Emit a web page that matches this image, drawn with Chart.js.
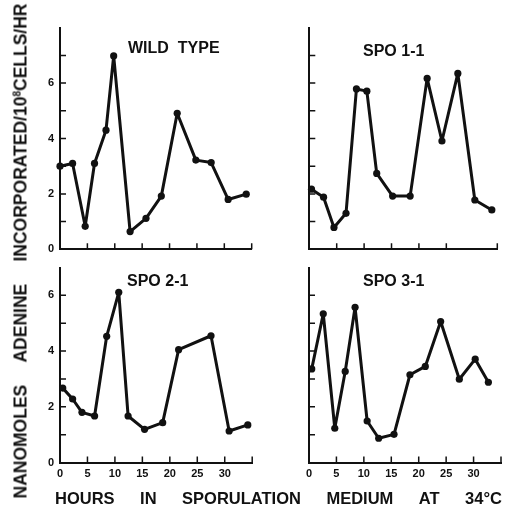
<!DOCTYPE html>
<html>
<head>
<meta charset="utf-8">
<script src="https://cdn.jsdelivr.net/npm/chart.js@4/dist/chart.umd.min.js"></script>
<style>
body{ margin:0; background:#fff; }
#page{
    position:relative; width:506px; height:511px; overflow:hidden;
    font-family:"Liberation Sans", Arial, sans-serif; font-weight:bold; color:#111;
}
canvas{ position:absolute; }
.panelTitle{ position:absolute; font-size:16px; line-height:16px; white-space:pre; }
#yTitle{
    position:absolute; left:-227.5px; top:240.5px; width:495px; height:20px;
    transform:rotate(-90deg); transform-origin:center;
    display:flex; justify-content:space-between; align-items:center;
    font-size:17.5px; line-height:20px; white-space:nowrap;
}
#yTitle sup{ font-size:10px; vertical-align:6px; line-height:0; }
#xTitle{
    position:absolute; left:55px; top:488px; width:447px; height:20px;
    display:flex; justify-content:space-between; align-items:center;
    font-size:16.5px; line-height:20px; white-space:nowrap;
}
</style>
</head>
<body>
<div id="page">
    <canvas id="wildChart" width="258" height="262" style="left:0;top:0"></canvas>
    <canvas id="spo11Chart" width="256" height="262" style="left:250px;top:0"></canvas>
    <canvas id="spo21Chart" width="258" height="240" style="left:0;top:250px"></canvas>
    <canvas id="spo31Chart" width="256" height="240" style="left:250px;top:250px"></canvas>

    <div class="panelTitle" style="left:128px;top:40px">WILD  TYPE</div>
    <div class="panelTitle" style="left:363px;top:43px">SPO 1-1</div>
    <div class="panelTitle" style="left:127px;top:273px">SPO 2-1</div>
    <div class="panelTitle" style="left:363px;top:273px">SPO 3-1</div>

    <div id="yTitle">
        <span>NANOMOLES</span>
        <span>ADENINE</span>
        <span>INCORPORATED/10<sup>8</sup>CELLS/HR</span>
    </div>
    <div id="xTitle">
        <span>HOURS</span><span>IN</span><span>SPORULATION</span><span>MEDIUM</span><span>AT</span><span>34°C</span>
    </div>
</div>

<script>
// ===========================
// DATA
// ===========================

// Tick labels
const hourLabels = [0, 5, 10, 15, 20, 25, 30];
const rateLabels = [0, 2, 4, 6];

// Wild type
const wildHours = [0, 2.3, 4.6, 6.3, 8.4, 9.8, 12.8, 15.7, 18.5, 21.4, 24.8, 27.6, 30.7, 34.0];
const wildRates = [3.0, 3.1, 0.83, 3.1, 4.3, 6.98, 0.64, 1.12, 1.92, 4.91, 3.22, 3.13, 1.80, 1.99];

// SPO 1-1
const spo11Hours = [0.4, 2.6, 4.5, 6.7, 8.6, 10.5, 12.3, 15.2, 18.4, 21.5, 24.2, 27.1, 30.2, 33.3];
const spo11Rates = [2.17, 1.88, 0.79, 1.30, 5.79, 5.71, 2.74, 1.92, 1.92, 6.17, 3.91, 6.35, 1.78, 1.42];

// SPO 2-1
const spo21Hours = [0.5, 2.3, 4.0, 6.3, 8.5, 10.7, 12.4, 15.4, 18.7, 21.6, 27.5, 30.8, 34.2];
const spo21Rates = [2.67, 2.28, 1.80, 1.67, 4.53, 6.11, 1.67, 1.19, 1.43, 4.05, 4.55, 1.13, 1.35];

// SPO 3-1
const spo31Hours = [0.5, 2.6, 4.7, 6.6, 8.4, 10.6, 12.7, 15.5, 18.4, 21.2, 24.0, 27.4, 30.3, 32.7];
const spo31Rates = [3.36, 5.34, 1.23, 3.27, 5.57, 1.49, 0.87, 1.01, 3.15, 3.45, 5.06, 2.99, 3.71, 2.88];

// ===========================
// STYLE
// ===========================

const ink = "#111";
const tickSize = 6;
const labelFont = { family: "Liberation Sans", size: 11, weight: "bold" };

// Small ticks pointing into the plot, like the original figure
const inwardTicks = {
    id: "inwardTicks",
    afterDraw(chart){
        const { ctx, chartArea, scales } = chart;
        ctx.save();
        ctx.strokeStyle = ink;
        ctx.lineWidth = 1.5;
        ctx.beginPath();
        scales.x.ticks.forEach(tick => {
            if(tick.value === scales.x.min) return;
            const px = scales.x.getPixelForValue(tick.value);
            ctx.moveTo(px, chartArea.bottom);
            ctx.lineTo(px, chartArea.bottom - tickSize);
        });
        scales.y.ticks.forEach(tick => {
            if(tick.value === scales.y.min || tick.value === scales.y.max) return;
            const py = scales.y.getPixelForValue(tick.value);
            ctx.moveTo(chartArea.left, py);
            ctx.lineTo(chartArea.left + tickSize, py);
        });
        ctx.stroke();
        ctx.restore();
    }
};

// ===========================
// CHARTS
// ===========================

function makePanel(id, hours, rates, panel){

    const canvas = document.getElementById(id);

    new Chart(canvas, {

        type: "line",

        data: {
            datasets: [{
                data: hours.map((h, i) => ({ x: h, y: rates[i] })),
                borderColor: ink,
                borderWidth: 3,
                borderJoinStyle: "round",
                borderCapStyle: "round",
                pointRadius: 3.6,
                pointBackgroundColor: ink,
                pointBorderWidth: 0,
                tension: 0,
                clip: false
            }]
        },

        options: {
            responsive: false,
            animation: false,
            layout: {
                padding: { top: panel.top, right: canvas.width - panel.right, left: 0, bottom: 0 }
            },
            plugins: {
                legend: { display: false },
                tooltip: { enabled: false }
            },
            scales: {
                x: {
                    type: "linear",
                    min: 0,
                    max: panel.xMax,
                    afterFit: scale => { scale.height = canvas.height - panel.bottom; },
                    grid: { drawOnChartArea: false, drawTicks: false },
                    border: { color: ink, width: 2 },
                    ticks: {
                        display: panel.hourLabels,
                        stepSize: 5,
                        autoSkip: false,
                        maxRotation: 0,
                        padding: 5,
                        color: ink,
                        font: labelFont,
                        callback: v => hourLabels.includes(v) ? v : ""
                    }
                },
                y: {
                    min: 0,
                    max: panel.yMax,
                    afterFit: scale => { scale.width = panel.left; },
                    grid: { drawOnChartArea: false, drawTicks: false },
                    border: { color: ink, width: 2 },
                    ticks: {
                        display: panel.rateLabels,
                        stepSize: 1,
                        autoSkip: false,
                        padding: 6,
                        color: ink,
                        font: labelFont,
                        callback: v => rateLabels.includes(v) ? v : ""
                    }
                }
            }
        },

        plugins: [inwardTicks]

    });

}

makePanel("wildChart", wildHours, wildRates,
    { left: 60, top: 27.7, right: 251.7, bottom: 249.3, xMax: 35, yMax: 8, hourLabels: false, rateLabels: true });

makePanel("spo11Chart", spo11Hours, spo11Rates,
    { left: 59.3, top: 27.7, right: 247.3, bottom: 249.3, xMax: 34.3, yMax: 8, hourLabels: false, rateLabels: false });

makePanel("spo21Chart", spo21Hours, spo21Rates,
    { left: 60, top: 17.5, right: 252.2, bottom: 212.5, xMax: 35, yMax: 7, hourLabels: true, rateLabels: true });

makePanel("spo31Chart", spo31Hours, spo31Rates,
    { left: 59, top: 17.5, right: 252.2, bottom: 212.5, xMax: 35, yMax: 7, hourLabels: true, rateLabels: false });
</script>
</body>
</html>
